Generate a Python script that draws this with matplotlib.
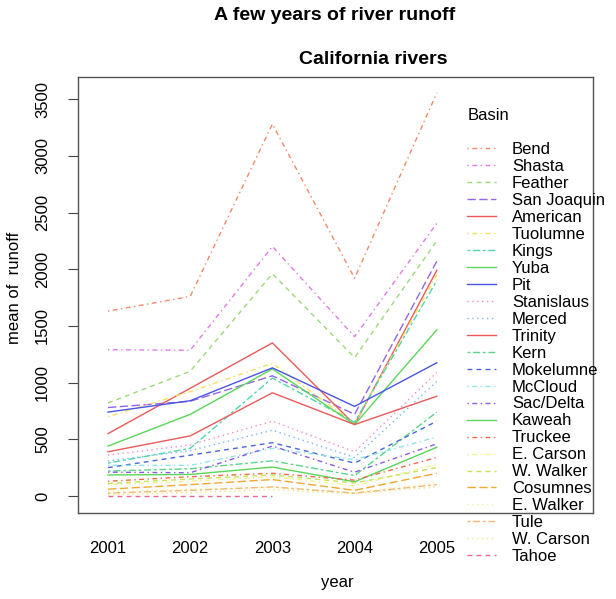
import numpy as np
import matplotlib
matplotlib.use('Agg')
import matplotlib.pyplot as plt

plt.rcParams['font.family'] = ['Liberation Sans', 'DejaVu Sans']

years = ['2001', '2002', '2003', '2004', '2005']

# mean runoff per basin and year (legend order = sorted by 2005 value)
bend        = [1630, 1760, 3280, 1920, 3555]
shasta      = [1290, 1285, 2200, 1405, 2405]
feather     = [820, 1100, 1960, 1220, 2250]
san_joaquin = [780, 835, 1060, 720, 2070]
american    = [550, 950, 1350, 630, 1990]
tuolumne    = [700, 920, 1170, 640, 1950]
kings       = [290, 420, 1040, 650, 1900]
yuba        = [440, 720, 1120, 630, 1465]
pit         = [740, 840, 1130, 790, 1175]
stanislaus  = [360, 450, 660, 390, 1090]
merced      = [310, 400, 580, 340, 1010]
trinity     = [390, 530, 910, 630, 880]
kern        = [220, 240, 310, 180, 740]
mokelumne   = [250, 360, 470, 290, 660]
mccloud     = [270, 270, 420, 320, 520]
sac_delta   = [210, 205, 440, 210, 460]
kaweah      = [185, 190, 255, 125, 430]
truckee     = [130, 170, 200, 140, 340]
e_carson    = [100, 130, 170, 90, 280]
w_walker    = [110, 150, 185, 115, 250]
cosumnes    = [60, 100, 145, 50, 200]
e_walker    = [40, 60, 75, 30, 120]
tule        = [25, 50, 80, 25, 100]
w_carson    = [10, 30, 55, 20, 80]
tahoe       = [0, 0, 0, np.nan, np.nan]

basins = ['Bend', 'Shasta', 'Feather', 'San Joaquin', 'American', 'Tuolumne',
          'Kings', 'Yuba', 'Pit', 'Stanislaus', 'Merced', 'Trinity', 'Kern',
          'Mokelumne', 'McCloud', 'Sac/Delta', 'Kaweah', 'Truckee', 'E. Carson',
          'W. Walker', 'Cosumnes', 'E. Walker', 'Tule', 'W. Carson', 'Tahoe']
series = [bend, shasta, feather, san_joaquin, american, tuolumne, kings, yuba,
          pit, stanislaus, merced, trinity, kern, mokelumne, mccloud, sac_delta,
          kaweah, truckee, e_carson, w_walker, cosumnes, e_walker, tule,
          w_carson, tahoe]

# R-like line types
solid = '-'
dashed = (0, (3.5, 3))
dotted = (0, (1, 2.5))
dotdash = (0, (1, 2.5, 3.5, 2.5))
longdash = (0, (6, 2.5))
twodash = (0, (2, 2, 5, 2))

colors = ['#f08a6a', '#e27ae6', '#9bd87a', '#9266e6', '#ea5a5a', '#f2e25a',
          '#4fd6aa', '#5ad65a', '#4a55e2', '#f08ac8', '#7ab6f2', '#ea5a5a',
          '#5ad68c', '#4a66d6', '#8ae6e6', '#8a5ae6', '#5ad65a', '#f06a4a',
          '#f2f28a', '#c4e25a', '#f0a830', '#f2f2a8', '#f0b870', '#f2e28a',
          '#e86a8a']
styles = [dotdash, dotdash, dashed, longdash, solid, dotdash, twodash, solid,
          solid, dotted, dotted, solid, twodash, dashed, dotdash, dotdash,
          solid, dotdash, dotdash, dashed, longdash, dotted, twodash, dotted,
          dashed]

fig = plt.figure(figsize=(6.16, 5.99), dpi=100)
ax = fig.add_axes([78/616, 1 - 513/599, (593 - 78)/616, (513 - 77)/599])

x = np.arange(1, len(years) + 1)
handles = []
for name, vals, c, ls in zip(basins, series, colors, styles):
    h, = ax.plot(x, vals, color=c, linestyle=ls, linewidth=1.0, label=name)
    handles.append(h)

ax.set_xlim(0.635, 6.9)
ax.set_ylim(-150, 3695)
ax.set_xticks(x)
ax.set_xticklabels(years, fontsize=12)
ax.tick_params(axis='x', length=0, pad=20)
ax.set_yticks(np.arange(0, 3501, 500))
ax.set_yticklabels([str(v) for v in range(0, 3501, 500)], rotation=90,
                   va='center', fontsize=12)
ax.tick_params(axis='y', length=7, pad=13, color='#444444')
for s in ax.spines.values():
    s.set_color('#555555')
    s.set_linewidth(1.0)

fig.text(337/616, 1 - 583/599, 'year', ha='center', va='center', fontsize=12)
fig.text(15/616, 1 - 288/599, 'mean of  runoff', rotation=90, ha='center',
         va='center', fontsize=12)
fig.text(335/616, 1 - 15/599, 'A few years of river runoff', ha='center',
         va='center', fontsize=14, fontweight='bold')
fig.text(373/616, 1 - 60/599, 'California rivers', ha='center', va='center',
         fontsize=14, fontweight='bold')
fig.text(468/616, 1 - 115/599, 'Basin', ha='left', va='center', fontsize=12)

fig.legend(handles=handles, loc='upper left',
           bbox_to_anchor=(467/616, 1 - 142/599), frameon=False, fontsize=12,
           handlelength=1.75, handletextpad=0.95, labelspacing=0.118,
           borderpad=0, borderaxespad=0)

fig.savefig('out.png', dpi=100)
